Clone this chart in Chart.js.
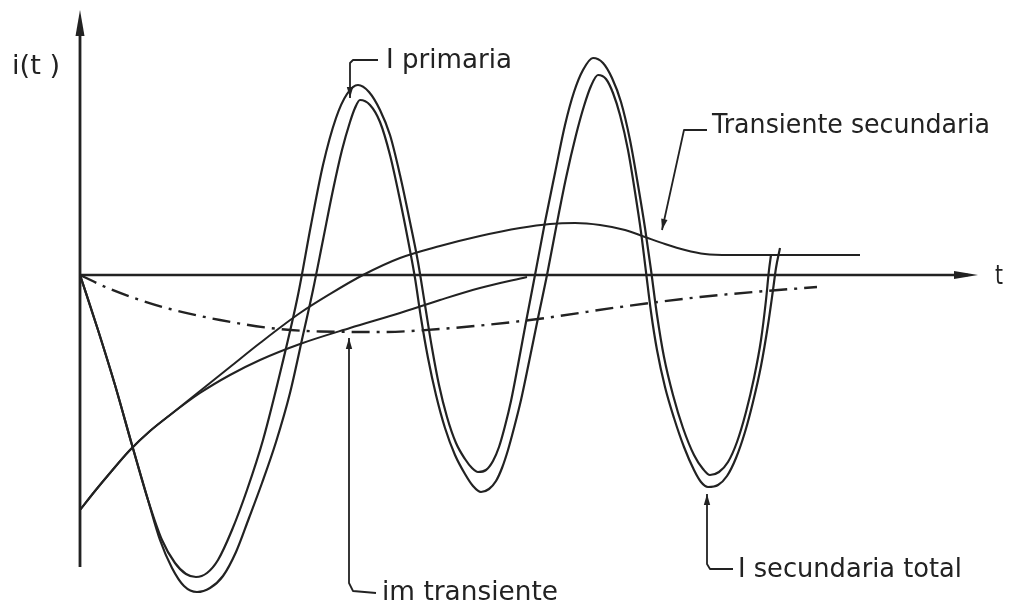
<!DOCTYPE html>
<html>
<head>
<meta charset="utf-8">
<title>i(t)</title>
<style>
  html, body { margin: 0; padding: 0; background: #ffffff; }
  #wrap { width: 1010px; height: 616px; }
  canvas { display: block; }
</style>
<script src="https://cdn.jsdelivr.net/npm/chart.js@4.4.1/dist/chart.umd.min.js"></script>
</head>
<body>
<div id="wrap"><canvas id="c" width="1010" height="616"></canvas></div>
<script>
// ---- series (t in time units, i in per-unit current) ----
const tPrimaria = [0.0, 1.8, 3.5, 5.2, 6.8, 8.2, 9.5, 10.6, 11.6, 12.7, 13.8, 15.2, 16.7, 18.3, 20.2, 21.8, 23.1, 24.3, 25.6, 26.7, 27.8,
  28.9, 30.0, 31.0, 32.0, 33.0, 33.8, 34.5, 35.2, 35.9, 36.7, 37.6, 38.5, 39.2, 39.8,
  40.6, 41.3, 41.9, 42.5, 43.1, 43.8, 44.6, 45.5, 46.5, 47.5, 48.5, 49.4, 50.3, 51.3,
  52.3, 53.2, 54.1, 55.0, 55.8, 56.5, 57.1, 57.7, 58.4, 59.3, 60.3, 61.4, 62.3, 63.0,
  63.9, 64.8, 65.7, 66.6, 67.4, 68.1, 68.6, 68.9, 69.1];
const iPrimaria = [0.00, -0.55, -1.10, -1.70, -2.25, -2.65, -2.88, -2.99, -3.02, -2.98, -2.85, -2.55, -2.15, -1.65, -0.90, -0.20, 0.50, 1.10, 1.57, 1.81, 1.90,
  1.83, 1.65, 1.40, 1.00, 0.53, 0.13, -0.30, -0.73, -1.10, -1.42, -1.68, -1.84, -1.93, -1.97,
  -1.95, -1.86, -1.72, -1.51, -1.26, -0.90, -0.47, 0.00, 0.53, 1.02, 1.50, 1.83, 2.05, 2.17,
  2.12, 1.97, 1.73, 1.35, 0.90, 0.47, 0.05, -0.40, -0.82, -1.20, -1.53, -1.80, -1.94, -2.00,
  -1.97, -1.87, -1.67, -1.37, -1.03, -0.65, -0.25, 0.05, 0.20];

const tSecTotal = [0.0, 1.8, 3.5, 5.2, 6.8, 8.0, 9.2, 10.4, 11.7, 13.0, 14.3, 15.6, 16.9, 18.2, 19.6, 21.0, 22.3, 23.3, 24.3, 25.3, 26.2, 27.0, 27.5, 28.0,
  29.0, 30.0, 31.0, 32.0, 32.8, 33.5, 34.1, 34.8, 35.6, 36.5, 37.5, 38.5, 39.3, 40.1,
  40.9, 41.6, 42.2, 42.8, 43.4, 44.1, 44.9, 45.8, 46.7, 47.6, 48.6, 49.6, 50.4, 51.1, 51.8,
  52.6, 53.3, 54.0, 54.8, 55.5, 56.1, 56.6, 57.1, 57.7, 58.5, 59.4, 60.4, 61.4, 62.1, 62.8,
  63.8, 64.7, 65.6, 66.5, 67.3, 68.1, 68.8, 69.3, 69.6, 70.0];
const iSecTotal = [0.00, -0.55, -1.10, -1.70, -2.25, -2.65, -2.93, -3.11, -3.17, -3.13, -3.01, -2.77, -2.43, -2.08, -1.67, -1.18, -0.60, -0.15, 0.35, 0.85, 1.25, 1.53, 1.67, 1.75,
  1.70, 1.53, 1.20, 0.75, 0.35, -0.03, -0.43, -0.83, -1.20, -1.53, -1.80, -1.99, -2.11, -2.17,
  -2.14, -2.06, -1.93, -1.75, -1.53, -1.25, -0.87, -0.43, 0.00, 0.47, 0.97, 1.40, 1.69, 1.89, 2.00,
  1.96, 1.82, 1.60, 1.25, 0.83, 0.43, 0.03, -0.37, -0.75, -1.12, -1.43, -1.72, -1.95, -2.07, -2.12,
  -2.10, -2.01, -1.83, -1.57, -1.27, -0.91, -0.50, -0.15, 0.07, 0.27];

const tTransSec = [0.0, 1.5, 3.0, 5.0, 7.0, 9.0, 12.0, 15.0, 18.0, 22.0, 25.0, 28.3, 32.0, 36.0, 40.0, 44.0, 47.0, 49.5, 52.0, 54.5, 56.5, 58.5, 60.5, 62.5, 65.0, 72.0, 78.0];
const iTransSec = [-2.35, -2.16, -1.98, -1.75, -1.56, -1.40, -1.16, -0.92, -0.68, -0.38, -0.19, 0.00, 0.17, 0.29, 0.39, 0.47, 0.51, 0.52, 0.50, 0.45, 0.38, 0.31, 0.25, 0.21, 0.20, 0.20, 0.20];

const tOffset = [0.0, 1.5, 3.0, 5.0, 7.0, 9.0, 12.0, 15.0, 18.0, 22.0, 27.0, 32.0, 36.0, 40.0, 44.7];
const iOffset = [-2.35, -2.16, -1.98, -1.75, -1.56, -1.40, -1.18, -1.00, -0.85, -0.69, -0.53, -0.38, -0.25, -0.13, -0.02];

const tImTrans = [0.0, 3.0, 6.0, 9.0, 14.0, 19.0, 24.0, 30.0, 36.0, 45.0, 54.0, 62.0, 68.0, 73.7];
const iImTrans = [0.00, -0.14, -0.25, -0.34, -0.45, -0.53, -0.565, -0.57, -0.54, -0.45, -0.32, -0.22, -0.165, -0.12];

// ---- axis extents ----
const tAxisEnd = 89.8;
const iAxisBottom = -2.92;
const iAxisTop = 2.65;

// ---- text labels: left edge t0, right edge t1, vertical centre i ----
const labels = [
  { text: 'i(t )', t0: -6.8, t1: -2.0, i: 2.08 },
  { text: 'I primaria', t0: 30.6, t1: 43.2, i: 2.14 },
  { text: 'Transiente secundaria', t0: 63.2, t1: 91.0, i: 1.49 },
  { text: 'im transiente', t0: 30.2, t1: 47.8, i: -3.18 },
  { text: 'I secundaria total', t0: 65.8, t1: 88.2, i: -2.95 },
  { text: 't', t0: 91.5, t1: 92.3, i: -0.02 }
];

// ---- leader lines, first point carries the arrowhead ----
const leaders = [
  [[27.0, 1.77], [27.0, 2.12], [27.3, 2.15], [29.8, 2.15]],
  [[58.2, 0.45], [60.4, 1.45], [62.7, 1.45]],
  [[26.9, -0.63], [26.9, -3.08], [27.3, -3.16], [29.6, -3.18]],
  [[62.7, -2.19], [62.7, -2.89], [63.0, -2.94], [65.3, -2.94]]
];

const INK = '#222222';

const pts = (ts, is) => ts.map((t, k) => ({ x: t, y: is[k] }));

function arrowHead(ctx, tx, ty, fx, fy, len, half) {
  const a = Math.atan2(ty - fy, tx - fx);
  const bx = tx - Math.cos(a) * len, by = ty - Math.sin(a) * len;
  ctx.beginPath();
  ctx.moveTo(tx, ty);
  ctx.lineTo(bx + Math.sin(a) * half, by - Math.cos(a) * half);
  ctx.lineTo(bx - Math.sin(a) * half, by + Math.cos(a) * half);
  ctx.closePath();
  ctx.fill();
}

const drawing = {
  id: 'drawing',
  beforeDatasetsDraw(chart) {
    const { ctx, scales: { x, y } } = chart;
    const X = v => x.getPixelForValue(v), Y = v => y.getPixelForValue(v);
    ctx.save();
    ctx.strokeStyle = INK;
    ctx.fillStyle = INK;
    ctx.lineCap = 'butt';
    // current axis
    ctx.lineWidth = 2.8;
    ctx.beginPath();
    ctx.moveTo(X(0), Y(iAxisBottom));
    ctx.lineTo(X(0), Y(iAxisTop) + 12);
    ctx.stroke();
    arrowHead(ctx, X(0), Y(iAxisTop), X(0), Y(0), 26, 4.5);
    // time axis
    ctx.lineWidth = 2.4;
    ctx.beginPath();
    ctx.moveTo(X(0), Y(0));
    ctx.lineTo(X(tAxisEnd) - 10, Y(0));
    ctx.stroke();
    arrowHead(ctx, X(tAxisEnd), Y(0), X(0), Y(0), 24, 4);
    ctx.restore();
  },
  afterDatasetsDraw(chart) {
    const { ctx, scales: { x, y } } = chart;
    const X = v => x.getPixelForValue(v), Y = v => y.getPixelForValue(v);
    ctx.save();
    ctx.strokeStyle = INK;
    ctx.fillStyle = INK;
    ctx.lineWidth = 1.8;
    ctx.lineJoin = 'round';
    leaders.forEach(p => {
      ctx.beginPath();
      p.forEach(([t, i], k) => k ? ctx.lineTo(X(t), Y(i)) : ctx.moveTo(X(t), Y(i)));
      ctx.stroke();
      arrowHead(ctx, X(p[0][0]), Y(p[0][1]), X(p[1][0]), Y(p[1][1]), 11, 3.2);
    });
    ctx.font = '27px "DejaVu Sans", sans-serif';
    ctx.textBaseline = 'middle';
    ctx.textAlign = 'left';
    labels.forEach(l => {
      const w = ctx.measureText(l.text).width;
      const sx = (X(l.t1) - X(l.t0)) / w;
      ctx.save();
      ctx.translate(X(l.t0), Y(l.i));
      ctx.scale(sx, 1);
      ctx.fillText(l.text, 0, 0);
      ctx.restore();
    });
    ctx.restore();
  }
};

const lineStyle = {
  borderColor: INK,
  borderWidth: 2.2,
  pointRadius: 0,
  fill: false,
  cubicInterpolationMode: 'monotone'
};

new Chart(document.getElementById('c'), {
  type: 'line',
  data: {
    datasets: [
      { label: 'I primaria', data: pts(tPrimaria, iPrimaria), ...lineStyle },
      { label: 'I secundaria total', data: pts(tSecTotal, iSecTotal), ...lineStyle },
      { label: 'Transiente secundaria', data: pts(tTransSec, iTransSec), ...lineStyle, borderWidth: 2 },
      { label: 'Componente continua', data: pts(tOffset, iOffset), ...lineStyle, borderWidth: 2 },
      { label: 'im transiente', data: pts(tImTrans, iImTrans), ...lineStyle, borderWidth: 2.4, borderDash: [18, 7, 3, 7] }
    ]
  },
  options: {
    responsive: false,
    animation: false,
    events: [],
    layout: { padding: 0 },
    plugins: { legend: { display: false }, tooltip: { enabled: false }, title: { display: false } },
    scales: {
      x: { type: 'linear', min: -8, max: 93, display: false },
      y: { type: 'linear', min: -3.41, max: 2.75, display: false }
    }
  },
  plugins: [drawing]
});
</script>
</body>
</html>
